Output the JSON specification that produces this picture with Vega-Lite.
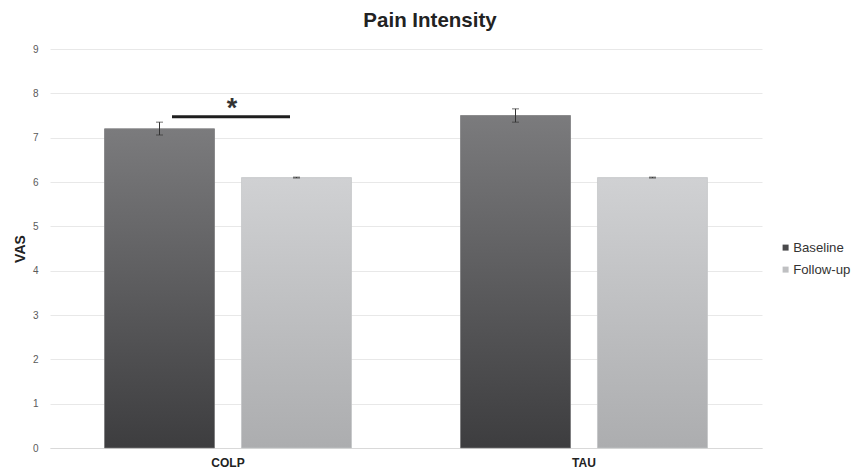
{
  "$schema": "https://vega.github.io/schema/vega-lite/v6.json",
  "width": 712,
  "height": 399,
  "autosize": {"type": "none"},
  "padding": {"left": 50, "top": 49, "right": 91, "bottom": 22},
  "background": "white",
  "title": {"text": "Pain Intensity", "font": "Liberation Sans", "fontSize": 20.5, "fontWeight": "bold", "color": "#222222", "anchor": "middle", "dx": 24, "offset": 13},
  "config": {"view": {"stroke": null}, "font": "Liberation Sans"},
  "datasets": {
    "bars": [
      {"group": "COLP", "series": "Baseline", "value": 7.2, "lo": 7.06, "hi": 7.35},
      {"group": "COLP", "series": "Follow-up", "value": 6.1, "lo": 6.09, "hi": 6.11},
      {"group": "TAU", "series": "Baseline", "value": 7.5, "lo": 7.35, "hi": 7.65},
      {"group": "TAU", "series": "Follow-up", "value": 6.1, "lo": 6.09, "hi": 6.11}
    ],
    "sig": [{"group": "COLP", "line": 7.47, "star": 7.78, "label": "*"}]
  },
  "data": {"name": "bars"},
  "encoding": {
    "x": {"field": "group", "type": "nominal", "sort": ["COLP", "TAU"],
      "scale": {"paddingInner": 0, "paddingOuter": 0},
      "axis": {"title": null, "labelAngle": 0, "labelFont": "Liberation Sans", "labelFontSize": 12, "labelFontWeight": "bold", "labelColor": "#222222", "labelPadding": 9, "ticks": false, "domainColor": "#d9d9d9", "domainWidth": 1}}
  },
  "layer": [
    {
      "mark": {"type": "bar"},
      "encoding": {
        "xOffset": {"field": "series", "type": "nominal", "scale": {"paddingInner": 0.197, "paddingOuter": 0.398}},
        "y": {"field": "value", "type": "quantitative",
          "scale": {"domain": [0, 9], "nice": false},
          "axis": {"title": "VAS", "titleFont": "Liberation Sans", "titleFontSize": 14, "titleFontWeight": "bold", "titleColor": "#222222", "titlePadding": 5, "tickCount": 9, "labelFont": "Liberation Sans", "labelFontSize": 10, "labelColor": "#5a5a5a", "labelPadding": 12, "ticks": false, "domain": false, "gridColor": "#e8e8e8", "gridWidth": 1}},
        "color": {"field": "series", "type": "nominal",
          "scale": {"domain": ["Baseline", "Follow-up"], "range": ["#4a4a4c", "#bfc0c2"]},
          "legend": {"title": null, "orient": "none", "legendX": 729, "legendY": 192, "symbolType": "square", "symbolSize": 36, "symbolStrokeWidth": 0, "labelFont": "Liberation Sans", "labelFontSize": 13.2, "labelColor": "#333333", "labelOffset": 1, "rowPadding": 8}}
      }
    },
    {
      "transform": [{"filter": "datum.series === 'Baseline'"}],
      "mark": {"type": "bar", "fill": {"gradient": "linear", "x1": 0, "y1": 0, "x2": 0, "y2": 1, "stops": [{"offset": 0, "color": "#7b7b7d"}, {"offset": 1, "color": "#3d3d3f"}]}, "stroke": "#8a8a8c", "strokeWidth": 0.6},
      "encoding": {
        "xOffset": {"field": "series", "type": "nominal"},
        "y": {"field": "value", "type": "quantitative"}
      }
    },
    {
      "transform": [{"filter": "datum.series === 'Follow-up'"}],
      "mark": {"type": "bar", "fill": {"gradient": "linear", "x1": 0, "y1": 0, "x2": 0, "y2": 1, "stops": [{"offset": 0, "color": "#d0d1d3"}, {"offset": 1, "color": "#acadaf"}]}, "stroke": "#c8c9cb", "strokeWidth": 0.6},
      "encoding": {
        "xOffset": {"field": "series", "type": "nominal"},
        "y": {"field": "value", "type": "quantitative"}
      }
    },
    {
      "mark": {"type": "rule", "color": "#333333", "strokeWidth": 1},
      "encoding": {
        "xOffset": {"field": "series", "type": "nominal"},
        "y": {"field": "lo", "type": "quantitative"},
        "y2": {"field": "hi"}
      }
    },
    {
      "mark": {"type": "tick", "color": "#333333", "thickness": 1, "size": 7},
      "encoding": {
        "xOffset": {"field": "series", "type": "nominal"},
        "y": {"field": "lo", "type": "quantitative"}
      }
    },
    {
      "mark": {"type": "tick", "color": "#333333", "thickness": 1, "size": 7},
      "encoding": {
        "xOffset": {"field": "series", "type": "nominal"},
        "y": {"field": "hi", "type": "quantitative"}
      }
    },
    {
      "data": {"name": "sig"},
      "mark": {"type": "tick", "color": "#1e1e1e", "thickness": 3, "size": 118, "xOffset": 3, "opacity": 1},
      "encoding": {
        "y": {"field": "line", "type": "quantitative"}
      }
    },
    {
      "data": {"name": "sig"},
      "mark": {"type": "text", "font": "Liberation Sans", "fontSize": 27, "fontWeight": "bold", "color": "#333333", "baseline": "middle", "dy": 6, "dx": 4},
      "encoding": {
        "y": {"field": "star", "type": "quantitative"},
        "text": {"field": "label"}
      }
    }
  ]
}
